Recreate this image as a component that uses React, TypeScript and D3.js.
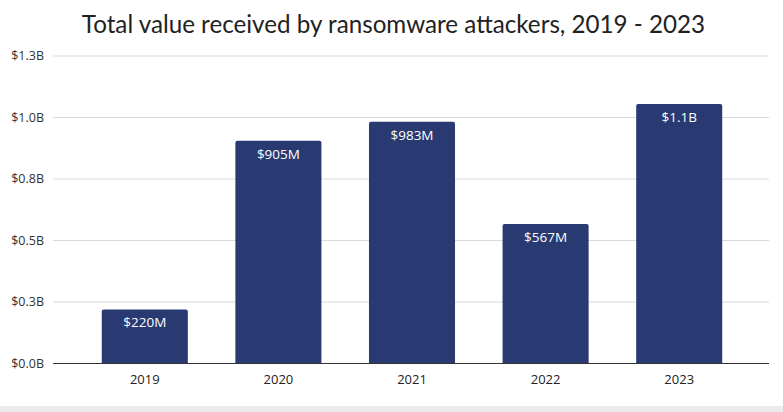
import React from "react";
import * as d3 from "d3";

const years = ["2019", "2020", "2021", "2022", "2023"];
const valuesB = [0.22, 0.905, 0.983, 0.567, 1.055];
const yTicks = [0, 0.25, 0.5, 0.75, 1.0, 1.25];
const title = "Total value received by ransomware attackers, 2019 - 2023";

const W = 783;
const H = 412;

function fmtVal(v: number) {
  if (v >= 1) return `$${v.toFixed(1)}B`;
  return `$${Math.round(v * 1000)}M`;
}

export default function App() {
  const x = d3.scaleBand<string>().domain(years).range([78, 746]).paddingInner(0.356).paddingOuter(0.178);
  const y = d3.scaleLinear().domain([0, 1.25]).range([363.5, 56]);
  const gridX0 = 53;
  const gridX1 = 769;
  const font = "'Open Sans', sans-serif";
  const barColor = "#293a72";
  const r = 2;

  const barPath = (x0: number, w: number, top: number, bottom: number) => {
    const p = d3.path();
    p.moveTo(x0, bottom);
    p.lineTo(x0, top + r);
    p.quadraticCurveTo(x0, top, x0 + r, top);
    p.lineTo(x0 + w - r, top);
    p.quadraticCurveTo(x0 + w, top, x0 + w, top + r);
    p.lineTo(x0 + w, bottom);
    p.closePath();
    return p.toString();
  };

  return (
    <svg width={W} height={H} style={{ position: "fixed", left: 0, top: 0, background: "#fff" }}>
      <rect x={0} y={0} width={W} height={H} fill="#fff" />
      <text x={W / 2 + 2} y={33} textAnchor="middle" fontFamily="Lato, sans-serif" fontSize={24.2} fill="#222">
        {title}
      </text>
      {yTicks.map((t) => (
        <g key={t}>
          {t !== 0 && (
            <line x1={gridX0} x2={gridX1} y1={y(t)} y2={y(t)} stroke="#d9d9d9" strokeWidth={1} />
          )}
          <text x={44} y={y(t) + 4} textAnchor="end" fontFamily={font} fontSize={12.5} fill="#333">
            {`$${t.toFixed(1)}B`}
          </text>
        </g>
      ))}
      {years.map((yr, i) => {
        const bx = x(yr)!;
        const bw = x.bandwidth();
        const top = y(valuesB[i]);
        return (
          <g key={yr}>
            <path d={barPath(bx, bw, top, y(0))} fill={barColor} />
            <text x={bx + bw / 2} y={top + 18} textAnchor="middle" fontFamily={font} fontSize={13.5} fill="#fff">
              {fmtVal(valuesB[i])}
            </text>
            <text x={bx + bw / 2} y={383.5} textAnchor="middle" fontFamily={font} fontSize={13} fill="#222">
              {yr}
            </text>
          </g>
        );
      })}
      <line x1={gridX0} x2={gridX1} y1={y(0)} y2={y(0)} stroke="#333" strokeWidth={1.2} />
      <rect x={0} y={406} width={W} height={6} fill="#ebebeb" />
    </svg>
  );
}
